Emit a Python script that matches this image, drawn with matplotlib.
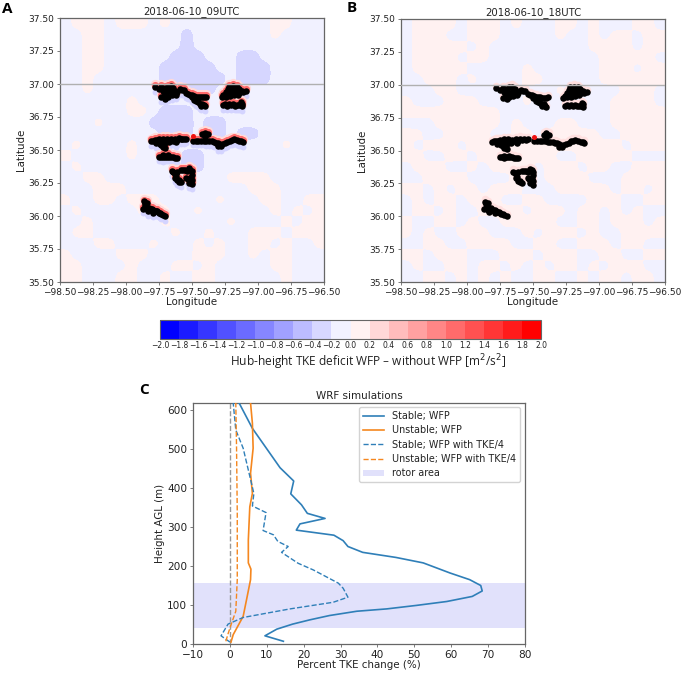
import matplotlib
matplotlib.use("Agg")
import matplotlib.pyplot as plt
from matplotlib.colors import BoundaryNorm
from matplotlib.cm import ScalarMappable
import numpy as np

W, H = 685, 674
LEVELS = [round(-2 + 0.2 * i, 1) for i in range(21)]
CELL_VALUE = {'.': -0.1, '+': 0.1, '-': -0.34}

field_a = [
    ".+++.+++.+.........++...",
    "..++.......-.......+....",
    "..++.......-............",
    "..++......---...--......",
    "..++.....-----..---.....",
    "..+......------.---.....",
    "..+.......----..........",
    "......+.................",
    "......++.---............",
    "...+....----.--.........",
    ".........---.--.--......",
    ".+....+.............+...",
    "+.....+....--...........",
    ".+.........--...........",
    "..++...........++++.....",
    "...+++...........+++....",
    "+..++.+++.....+...++..++",
    ".+.....+++..+......+.+.+",
    "..+......+.....+....+.++",
    ".++.......+..+...+++.+++",
    "...++...+...+.+..++.+..+",
    "+....+++....+++..+.++...",
    "++....+...++.+.....++...",
    "++...++..+..++......+...",
]
field_b = [
    ".++++.+++.+...++.+...++.",
    ".+++..+++.....+..+.++.++",
    ".+++++.+.........++++.++",
    ".++++.++..........+++++.",
    ".+++++.....+......+++.++",
    "..+++.+....++.....++++++",
    "...++....++...+.....+++.",
    "+...+++....+.......++++.",
    "+++++++++..........+++++",
    "...++++++.+...++...+++++",
    "++..++++..++.+++++..++++",
    "+.+++.++++++++++++++.+++",
    "++..++.+++++++..+++++...",
    ".+++..+.++++.+++.++..+++",
    "..++++....++.++++...++++",
    "++.+.++.+++...+++++.++.+",
    ".+.++.+++..++....+++..++",
    ".++.+..++++.+++.++.+.+..",
    "+..++.+..+++++..++.+++.+",
    "+.+..+++...+.+++.+..++++",
    "..++..++++..++..+++.++..",
    "++.+++...+++.+++..++..++",
    ".+..++.++.+.+.++.+.+++..",
    "..++.+.+.+..++..+.++.++.",
]

turbine_lon = [
    -97.78,-97.75,-97.73,-97.70,-97.68,-97.66,-97.64,-97.72,-97.69,-97.66,-97.63,-97.61,-97.73,-97.71,-97.68,-97.65,-97.62,-97.70,
    -97.59,-97.56,-97.54,-97.51,-97.48,-97.45,-97.42,-97.39,-97.48,-97.45,-97.42,-97.40,-97.43,
    -97.575,-97.525,-97.495,-97.465,-97.435,-97.405,-97.50,-97.465,-97.435,-97.41,
    -97.27,-97.24,-97.21,-97.18,-97.15,-97.24,-97.21,-97.18,-97.15,-97.12,-97.09,-97.22,-97.19,-97.16,
    -97.205,-97.175,-97.145,-97.225,-97.23,-97.20,-97.17,-97.14,-97.26,-97.11,
    -97.26,-97.23,-97.20,-97.17,-97.14,-97.12,-97.12,-97.245,-97.215,-97.185,-97.155,-97.13,
    -97.81,-97.78,-97.75,-97.72,-97.69,-97.66,-97.63,-97.60,-97.57,-97.54,-97.77,-97.74,-97.70,-97.67,-97.62,-97.72,-97.70,
    -97.795,-97.765,-97.735,-97.705,-97.675,-97.645,-97.615,-97.585,-97.555,-97.755,-97.72,-97.73,
    -97.49,-97.45,-97.41,-97.37,-97.33,-97.30,-97.28,-97.30,-97.25,-97.21,-97.18,-97.14,-97.11,-97.40,-97.42,-97.38,-97.40,
    -97.47,-97.43,-97.39,-97.35,-97.315,-97.23,-97.195,-97.16,-97.125,-97.27,
    -97.75,-97.72,-97.69,-97.66,-97.63,-97.61,-97.72,-97.68,-97.735,-97.705,-97.675,-97.645,
    -97.65,-97.63,-97.61,-97.58,-97.55,-97.52,-97.50,-97.50,-97.63,-97.61,-97.58,-97.53,-97.52,-97.50,-97.50,
    -97.64,-97.62,-97.60,-97.565,-97.535,-97.51,-97.51,-97.54,-97.515,-97.595,
    -97.86,-97.84,-97.85,-97.87,-97.84,-97.82,-97.80,-97.78,-97.76,-97.74,-97.72,-97.70,-97.83,-97.79,
    -97.855,-97.855,-97.81,-97.77,-97.75,-97.73,-97.79,-97.825,
]
turbine_lat = [
    36.975,36.96,36.975,36.97,36.98,36.985,36.97,36.945,36.94,36.945,36.95,36.94,36.90,36.91,36.905,36.915,36.92,36.89,
    36.96,36.955,36.93,36.92,36.91,36.905,36.90,36.905,36.88,36.86,36.85,36.83,36.835,
    36.955,36.925,36.915,36.905,36.90,36.90,36.90,36.87,36.845,36.84,
    36.90,36.905,36.91,36.915,36.92,36.94,36.95,36.955,36.95,36.95,36.945,36.98,36.985,36.98,
    36.97,36.97,36.965,36.96,36.92,36.93,36.93,36.935,36.915,36.94,
    36.84,36.835,36.84,36.835,36.84,36.85,36.83,36.845,36.845,36.845,36.84,36.86,
    36.565,36.575,36.58,36.585,36.585,36.58,36.585,36.59,36.585,36.585,36.55,36.545,36.55,36.56,36.56,36.52,36.515,
    36.57,36.575,36.565,36.565,36.57,36.57,36.575,36.58,36.58,36.56,36.55,36.535,
    36.57,36.57,36.57,36.565,36.56,36.55,36.53,36.53,36.55,36.57,36.58,36.565,36.56,36.63,36.62,36.62,36.60,
    36.57,36.57,36.565,36.565,36.555,36.56,36.575,36.575,36.565,36.545,
    36.45,36.445,36.45,36.45,36.44,36.44,36.46,36.46,36.45,36.45,36.45,36.445,
    36.34,36.32,36.335,36.345,36.345,36.36,36.34,36.31,36.29,36.27,36.255,36.28,36.25,36.24,36.27,
    36.33,36.30,36.27,36.345,36.34,36.35,36.29,36.29,36.26,36.26,
    36.11,36.10,36.08,36.055,36.05,36.06,36.05,36.04,36.035,36.02,36.01,36.00,36.035,36.025,
    36.095,36.065,36.05,36.035,36.025,36.015,36.045,36.05,
]
site_lon, site_lat = [-97.49], [36.605]

map_ticks_x = [-98.5, -98.25, -98.0, -97.75, -97.5, -97.25, -97.0, -96.75, -96.5]
map_ticks_y = [35.5, 35.75, 36.0, 36.25, 36.5, 36.75, 37.0, 37.25, 37.5]

stable_x = [14.5,9.5,12.7,17,21.7,27,34.4,42.5,50.6,58.8,65.7,68.4,68,65,59.7,52.4,45,36,32,30.7,28.2,18,19,25.8,21,19.4,16.5,17.3,13.6,6.1,2.5]
stable_h = [7,21,38,51,62,73,84,90,99,109,122,136,150,165,182,208,222,235,250,265,279,292,308,322,335,357,385,418,452,553,618]
stable4_x = [0,-2.4,-0.5,3.6,16.3,28,32,30.7,29.4,22.6,18.5,14,15.8,13,11.8,9,9.8,6.1,6.5,3.6,1.6,0.9]
stable4_h = [5,21,51,68,90,107,120,143,156,190,207,235,250,263,280,291,337,354,386,502,549,618]
unstable_x = [0.3,0.9,3.6,4.5,5.6,5.7,5,5,5.2,5.4,6.1,5.6,6.3,6.1,5.6]
unstable_h = [5,24,71,113,165,192,208,267,310,352,386,438,502,566,618]
unstable4_x = [-1.1,-0.5,0.3,1.6,2,2,1.8,1.6]
unstable4_h = [7,26,49,84,165,335,506,618]
rotor_bottom, rotor_top = 42, 157

fig = plt.figure(figsize=(W / 100, H / 100), dpi=100)
GREY = "#666666"
TXT = "#222222"


def axes_px(l, t, r, b):
    return fig.add_axes([l / W, 1 - b / H, (r - l) / W, (b - t) / H])


def style(ax, size):
    for s in ax.spines.values():
        s.set_color(GREY)
        s.set_linewidth(0.9)
    ax.tick_params(labelsize=size, length=2.5, width=0.6, pad=1.5, color=GREY, labelcolor=TXT)


cmap = plt.get_cmap("bwr", 20)
norm = BoundaryNorm(LEVELS, 20)


def draw_map(ax, rows, title, halo):
    grid = np.array([[CELL_VALUE[c] for c in r.ljust(24, '.')[:24]] for r in rows])
    ax.imshow(grid, extent=[-98.5, -96.5, 35.5, 37.5], origin="upper", aspect="auto", cmap=cmap, norm=norm,
              interpolation="gaussian", interpolation_stage="data", zorder=1)
    lon = np.array(turbine_lon)
    lat = np.array(turbine_lat)
    if halo:
        ax.scatter(lon, lat - 0.035, s=18, color="#d4d4ff", lw=0, zorder=2)
        ax.scatter(lon, lat + 0.022, s=44, color="#ffdada", lw=0, zorder=2)
        ax.scatter(lon, lat + 0.015, s=26, color="#ff6a6a", lw=0, zorder=3)
    else:
        ax.scatter(lon, lat + 0.018, s=30, color="#ffe0e0", lw=0, zorder=2)
    ax.scatter(lon, lat, s=22, color="black", lw=0, zorder=4)
    ax.scatter(site_lon, site_lat, s=13, color="#ee1111", lw=0, zorder=5)
    ax.axhline(37.0, color="#b0b0b0", lw=1.0, zorder=6)
    ax.set_xlim(-98.5, -96.5)
    ax.set_ylim(35.5, 37.5)
    ax.set_xticks(map_ticks_x)
    ax.set_xticklabels([f"{v:.2f}".replace("-", "\u2212") for v in map_ticks_x])
    ax.set_yticks(map_ticks_y)
    ax.set_yticklabels([f"{v:.2f}" for v in map_ticks_y])
    style(ax, 6.5)
    ax.set_xlabel("Longitude", fontsize=7.4, labelpad=0.5, color=TXT)
    ax.set_ylabel("Latitude", fontsize=7.4, labelpad=1.5, color=TXT)
    ax.set_title(title, fontsize=7.3, pad=2.5, color=TXT)


ax_a = axes_px(59.5, 18, 324, 282)
draw_map(ax_a, field_a, "2018-06-10_09UTC", True)
ax_b = axes_px(401, 19, 665, 282)
draw_map(ax_b, field_b, "2018-06-10_18UTC", False)

cax = axes_px(160, 320, 541, 338.5)
sm = ScalarMappable(norm=norm, cmap=cmap)
cb = fig.colorbar(sm, cax=cax, orientation="horizontal", ticks=LEVELS, spacing="uniform")
cb.ax.set_xticklabels([f"{v:.1f}".replace("-", "\u2212") for v in LEVELS])
cb.outline.set_edgecolor(GREY)
cb.outline.set_linewidth(0.8)
cax.tick_params(labelsize=5.5, length=0, pad=2, labelcolor=TXT)

fig.text(368 / W, 1 - 362 / H, "Hub-height TKE deficit WFP \u2013 without WFP [m$^{2}$/s$^{2}$]", family="Open Sans",
         fontsize=8.6, ha="center", va="center", color=TXT, math_fontfamily="dejavusans")

ax_c = axes_px(193, 403, 525, 644)
ax_c.axhspan(rotor_bottom, rotor_top, color="#e1e1fb", lw=0, label="rotor area", zorder=1)
ax_c.axvline(0, color="#999999", ls="--", lw=1.0, zorder=2)
ax_c.plot(stable_x, stable_h, color="#2f7fb8", lw=1.2, label="Stable; WFP", zorder=3)
ax_c.plot(unstable_x, unstable_h, color="#f5871f", lw=1.2, label="Unstable; WFP", zorder=3)
ax_c.plot(stable4_x, stable4_h, color="#2f7fb8", lw=1.0, ls="--", label="Stable; WFP with TKE/4", zorder=3)
ax_c.plot(unstable4_x, unstable4_h, color="#f5871f", lw=1.0, ls="--", label="Unstable; WFP with TKE/4", zorder=3)
ax_c.set_xlim(-10, 80)
ax_c.set_ylim(0, 618)
ax_c.set_xticks(range(-10, 81, 10))
ax_c.set_xticklabels([str(v).replace("-", "\u2212") for v in range(-10, 81, 10)])
ax_c.set_yticks(range(0, 601, 100))
style(ax_c, 7.6)
ax_c.set_xlabel("Percent TKE change (%)", fontsize=7.4, labelpad=0.5, color=TXT)
ax_c.set_ylabel("Height AGL (m)", fontsize=7.4, labelpad=1.5, color=TXT)
ax_c.set_title("WRF simulations", fontsize=7.5, pad=3, color=TXT)
handles, labels = ax_c.get_legend_handles_labels()
order = [labels.index(n) for n in ["Stable; WFP", "Unstable; WFP", "Stable; WFP with TKE/4", "Unstable; WFP with TKE/4", "rotor area"]]
ax_c.legend([handles[i] for i in order], [labels[i] for i in order], loc="upper right", fontsize=6.9,
            framealpha=0.85, edgecolor="#cccccc", labelcolor=TXT, borderpad=0.42, labelspacing=0.45,
            handlelength=2.2, handletextpad=0.8, bbox_to_anchor=(0.985, 0.983), borderaxespad=0)

for letter, x, y in [("A", 2, 9), ("B", 347, 8), ("C", 139, 390)]:
    fig.text(x / W, 1 - y / H, letter, family="Open Sans", fontweight="bold", fontsize=11, va="center", color="black")

fig.savefig("out.png", dpi=100)
